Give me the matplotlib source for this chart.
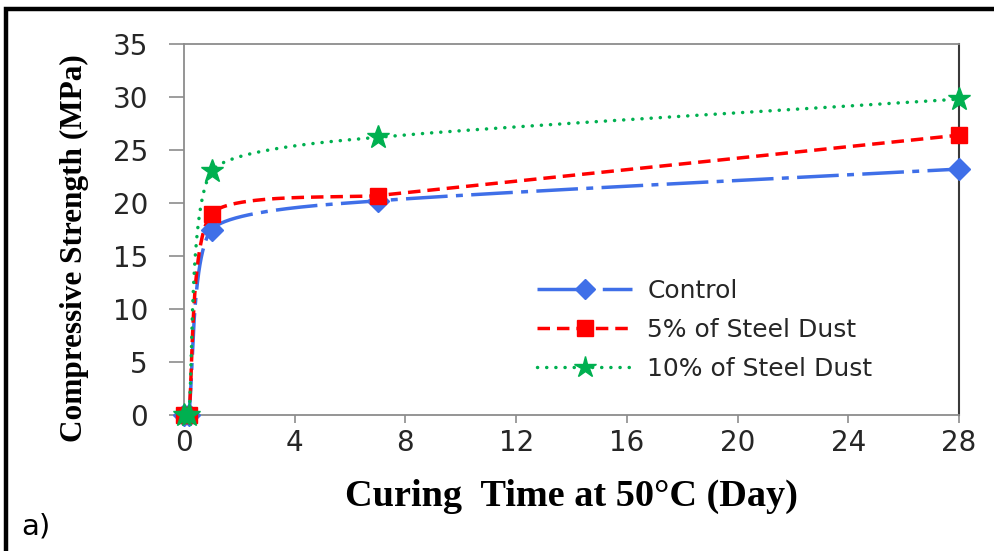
import numpy as np
import matplotlib
matplotlib.use("Agg")
import matplotlib.pyplot as plt
from matplotlib.patches import Rectangle

# ---- data ----
days = [0, 0.17, 1, 7, 28]
control = [0, 0, 17.5, 20.2, 23.2]
steel5 = [0, 0, 19.0, 20.7, 26.4]
steel10 = [0, 0, 23.0, 26.2, 29.8]
labels = ["Control", "5% of Steel Dust", "10% of Steel Dust"]
xticks = [0, 4, 8, 12, 16, 20, 24, 28]
yticks = [0, 5, 10, 15, 20, 25, 30, 35]


def smooth(ax, xs, ys, f=1 / 6.0, n=80):
    """Excel-like smoothed line: Bezier through the points, built in screen space."""
    P = ax.transData.transform(np.column_stack([xs, ys]).astype(float))
    out = []
    for i in range(len(P) - 1):
        p0 = P[max(i - 1, 0)]
        p1 = P[i]
        p2 = P[i + 1]
        p3 = P[min(i + 2, len(P) - 1)]
        d12 = np.hypot(*(p2 - p1))
        t1 = p2 - p0
        t2 = p3 - p1
        t1 = t1 / (np.hypot(*t1) or 1)
        t2 = t2 / (np.hypot(*t2) or 1)
        c1 = p1 + t1 * d12 * f
        c2 = p2 - t2 * d12 * f
        t = np.linspace(0, 1, n)[:, None]
        seg = ((1 - t) ** 3) * p1 + 3 * ((1 - t) ** 2) * t * c1 + 3 * (1 - t) * t ** 2 * c2 + t ** 3 * p2
        out.append(seg if i == 0 else seg[1:])
    S = ax.transData.inverted().transform(np.vstack(out))
    return S[:, 0], S[:, 1]


plt.rcParams['lines.scale_dashes'] = False
fig = plt.figure(figsize=(9.95, 5.51), dpi=100)
ax = fig.add_axes([184 / 995, 1 - 415 / 551, 775 / 995, 371 / 551])
ax.set_xlim(0, 28)
ax.set_ylim(0, 35)

styles = [
    dict(color="#3f6fe8", ls=(0, (30, 6, 5, 6)), marker="D", ms=11),
    dict(color="#ff0000", ls=(0, (9, 5)), marker="s", ms=12),
    dict(color="#00b050", ls=(0, (0.1, 6.5)), marker="*", ms=17),
]

for ys, lab, st in zip([control, steel5, steel10], labels, styles):
    sx, sy = smooth(ax, days, ys)
    cap = "round" if st["marker"] == "*" else "butt"
    ax.plot(sx, sy, color=st["color"], ls=st["ls"], lw=2.5,
            dash_capstyle=cap, clip_on=False, zorder=2)
    ax.plot(days, ys, ls="none", marker=st["marker"], ms=st["ms"],
            color=st["color"], mec=st["color"], clip_on=False, zorder=3)
    # legend proxy
    ax.plot([], [], color=st["color"], ls=st["ls"], lw=2.5, marker=st["marker"],
            ms=st["ms"] - 1, dash_capstyle=cap, label=lab)

ax.set_xticks(xticks)
ax.set_yticks(yticks)

tickfont = dict(family="DejaVu Sans", size=20)
ax.set_xticklabels([str(v) for v in xticks], **tickfont)
ax.set_yticklabels([str(v) for v in yticks], **tickfont)
ax.tick_params(axis="y", direction="out", length=11, width=1.2, color="#8c8c8c",
               pad=15, labelcolor="#262626")
ax.tick_params(axis="x", direction="out", length=6, width=1.2, color="#8c8c8c",
               pad=4, labelcolor="#262626")

for s in ["left", "bottom", "top"]:
    ax.spines[s].set_color("#8c8c8c")
    ax.spines[s].set_linewidth(1.3)
ax.spines["right"].set_color("#3a3a3a")
ax.spines["right"].set_linewidth(1.5)

ax.set_xlabel("Curing  Time at 50°C (Day)", family="Liberation Serif",
              fontweight="bold", fontsize=27.5, labelpad=16)
ax.set_ylabel("Compressive Strength (MPa)", family="Liberation Serif",
              fontweight="bold", fontsize=22.5)
ax.yaxis.set_label_coords(-0.122, 0.45)

leg = ax.legend(loc="center left", bbox_to_anchor=(0.44, 0.23), frameon=False,
                prop=dict(family="DejaVu Sans", size=18), handlelength=3.8,
                handletextpad=0.6, labelspacing=0.6, borderpad=0)
for t in leg.get_texts():
    t.set_color("#262626")

# figure border (black frame)
fig.patches.append(Rectangle((6 / 995, -0.1), 1.2, 1 - 9 / 551 + 0.1,
                             transform=fig.transFigure, fill=False,
                             ec="black", lw=3.2))
fig.text(21 / 995, 1 - 526 / 551, "a)", family="DejaVu Sans", fontsize=21,
         va="center", ha="left", color="black")

fig.savefig("out.png", dpi=100)
